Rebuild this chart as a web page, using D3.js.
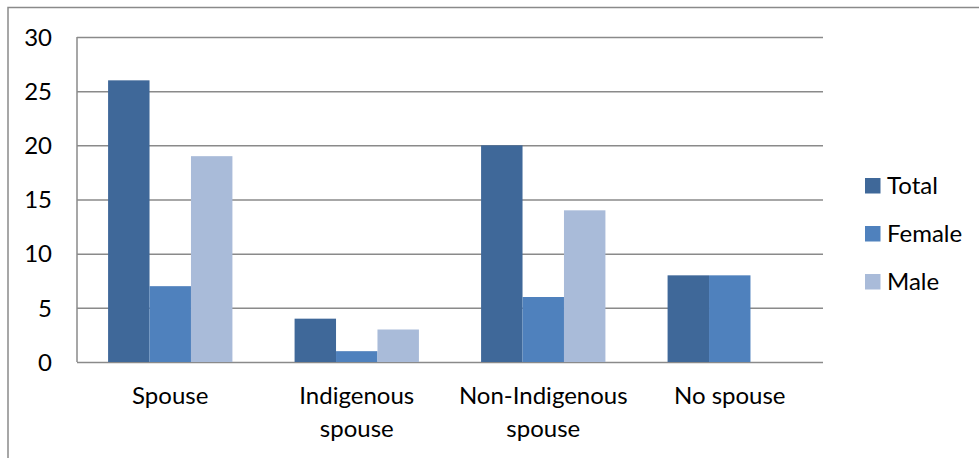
<!DOCTYPE html>
<html><head><meta charset="utf-8">
<script src="https://cdn.jsdelivr.net/npm/d3@7"></script>
<style>html,body{margin:0;padding:0;background:#fff;}svg{display:block;}</style>
</head><body>
<svg id="c" width="979" height="458"></svg>
<script>
const categories = [["Spouse"], ["Indigenous", "spouse"], ["Non-Indigenous", "spouse"], ["No spouse"]];
const seriesNames = ["Total", "Female", "Male"];
const totalValues = [26, 4, 20, 8];
const femaleValues = [7, 1, 6, 8];
const maleValues = [19, 3, 14, 0];
const yTicks = [0, 5, 10, 15, 20, 25, 30];
const colors = ["#3F6899", "#4F81BD", "#A9BBD9"];

(function () {
const seriesValues = [totalValues, femaleValues, maleValues];
const svg = d3.select("#c");
const font = "Lato, 'Open Sans', sans-serif";
const fs = 24;
const pL = 77, pR = 823, pT = 37, pB = 362;

// outer border
svg.append("path").attr("d", "M8,459 L8,7.5 L980,7.5").attr("fill", "none").attr("stroke", "#8a8a8a").attr("stroke-width", 1.5);

const x0 = d3.scaleBand().domain(d3.range(categories.length)).range([pL, pR]).paddingInner(0).paddingOuter(0);
const barW = x0.bandwidth() / 4.5;
const x1 = d3.scaleBand().domain(d3.range(seriesNames.length)).range([0, barW * 3]);
const y = d3.scaleLinear().domain([0, 30]).range([pB, pT]);

// gridlines
const yAxis = d3.axisLeft(y).tickValues(yTicks).tickSize(-(pR - pL)).tickFormat(d3.format("d")).tickPadding(25);
const gy = svg.append("g").attr("transform", `translate(${pL},0)`).call(yAxis);
gy.select(".domain").remove();
gy.selectAll(".tick line").attr("stroke", "#8a8a8a").attr("stroke-width", 1.5);
gy.selectAll(".tick text").attr("font-family", font).attr("font-size", fs).attr("fill", "#000").attr("dy", "0.34em");

// bars
seriesValues.forEach((vals, si) => {
  svg.append("g").selectAll("rect").data(vals).join("rect")
    .attr("x", (d, i) => x0(i) + barW * 0.75 + x1(si))
    .attr("width", x1.bandwidth())
    .attr("y", d => y(d))
    .attr("height", d => y(0) - y(d))
    .attr("fill", colors[si]);
});

// left axis line
svg.append("line").attr("x1", pL).attr("x2", pL).attr("y1", pT).attr("y2", pB).attr("stroke", "#8a8a8a").attr("stroke-width", 1.5);

// x labels
const xl = svg.append("g");
categories.forEach((lines, i) => {
  const cx = x0(i) + x0.bandwidth() / 2;
  const t = xl.append("text").attr("text-anchor", "middle").attr("font-family", font).attr("font-size", fs).attr("fill", "#000");
  lines.forEach((ln, j) => t.append("tspan").attr("x", cx).attr("y", 404 + j * 33).text(ln));
});

// legend
const lg = svg.append("g");
seriesNames.forEach((n, i) => {
  const yy = 178 + i * 48;
  lg.append("rect").attr("x", 865).attr("y", yy).attr("width", 15.5).attr("height", 15.5).attr("fill", colors[i]);
  lg.append("text").attr("x", 887).attr("y", yy + 15.5).attr("font-family", font).attr("font-size", fs).attr("fill", "#000").text(n);
});
})();
</script>
</body></html>
